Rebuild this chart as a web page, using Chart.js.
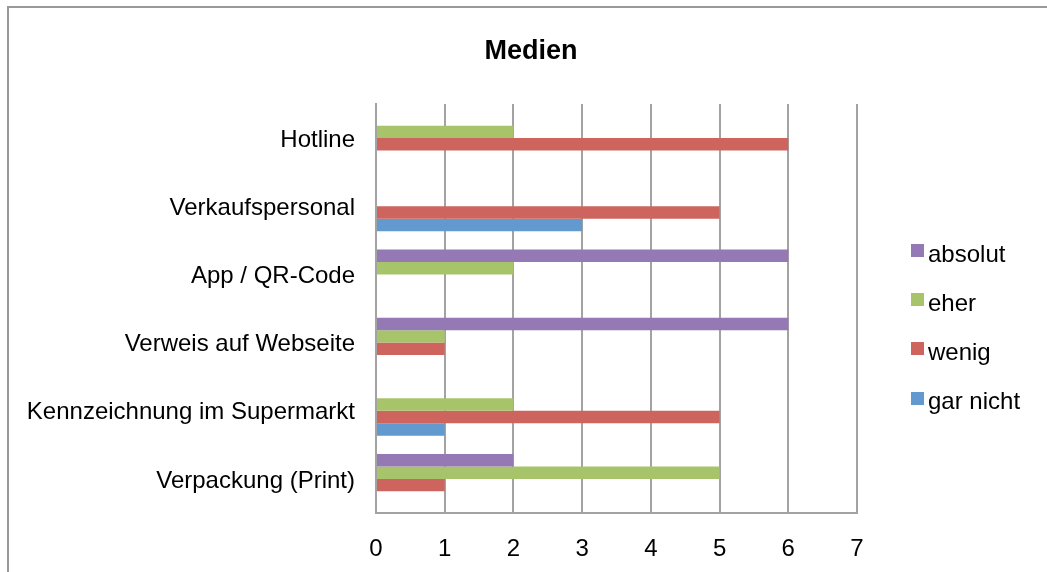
<!DOCTYPE html>
<html>
<head>
<meta charset="utf-8">
<title>Medien</title>
<script src="https://cdn.jsdelivr.net/npm/chart.js@4.4.1/dist/chart.umd.min.js"></script>
<style>
  html, body { margin: 0; padding: 0; background: #ffffff; overflow: hidden; }
  #wrap { position: relative; width: 1047px; height: 572px; }
</style>
</head>
<body>
<div id="wrap"><canvas id="chart" width="1047" height="572"></canvas></div>
<script>
// Categories, top to bottom
const categories = [
  'Hotline',
  'Verkaufspersonal',
  'App / QR-Code',
  'Verweis auf Webseite',
  'Kennzeichnung im Supermarkt',
  'Verpackung (Print)'
];

// Series values (one entry per category)
const absolut  = [0, 0, 6, 6, 0, 2];
const eher     = [2, 0, 2, 1, 2, 5];
const wenig    = [6, 5, 0, 1, 5, 1];
const garNicht = [0, 3, 0, 0, 1, 0];

const seriesNames = ['absolut', 'eher', 'wenig', 'gar nicht'];
const xTicks = [0, 1, 2, 3, 4, 5, 6, 7];
const chartTitle = 'Medien';

const FONT = '"Liberation Sans", Arial, Helvetica, sans-serif';
const GRID = '#a3a3a3';
const colors = ['#9479b4', '#a8c46a', '#ce645e', '#6299ce'];

// Frame, title and legend drawn onto the canvas
const decorations = {
  id: 'decorations',
  beforeDraw(chart) {
    const ctx = chart.ctx;
    ctx.save();
    ctx.fillStyle = '#ffffff';
    ctx.fillRect(0, 0, chart.width, chart.height);
    ctx.strokeStyle = '#999999';
    ctx.lineWidth = 2;
    ctx.beginPath();
    ctx.moveTo(8, chart.height);
    ctx.lineTo(8, 7);
    ctx.lineTo(chart.width, 7);
    ctx.stroke();
    ctx.restore();
  },
  afterDraw(chart) {
    const ctx = chart.ctx;
    ctx.save();
    ctx.fillStyle = '#000000';
    ctx.textAlign = 'center';
    ctx.textBaseline = 'alphabetic';
    ctx.font = 'bold 27px ' + FONT;
    ctx.fillText(chartTitle, 531, 59);

    ctx.textAlign = 'left';
    ctx.font = '24px ' + FONT;
    chart.data.datasets.forEach((ds, i) => {
      const top = 244 + i * 49.2;
      ctx.fillStyle = ds.backgroundColor;
      ctx.fillRect(911, Math.round(top), 13, 13);
      ctx.fillStyle = '#000000';
      ctx.fillText(ds.label, 928, Math.round(top + 17.7));
    });
    ctx.restore();
  }
};

const seriesData = [absolut, eher, wenig, garNicht];

new Chart(document.getElementById('chart'), {
  type: 'bar',
  data: {
    labels: categories,
    datasets: seriesData.map((vals, i) => ({
      label: seriesNames[i],
      data: vals,
      backgroundColor: colors[i],
      borderWidth: 0,
      categoryPercentage: 0.73,
      barPercentage: 1.0
    }))
  },
  options: {
    indexAxis: 'y',
    responsive: false,
    animation: false,
    devicePixelRatio: 1,
    layout: { padding: { top: 104, right: 190, left: 0, bottom: 0 } },
    plugins: {
      legend: { display: false },
      title: { display: false },
      tooltip: { enabled: false }
    },
    scales: {
      x: {
        type: 'linear',
        min: xTicks[0],
        max: xTicks[xTicks.length - 1],
        afterBuildTicks(scale) {
          scale.ticks = xTicks.map(v => ({ value: v }));
        },
        afterFit(scale) { scale.height = 59; },
        ticks: {
          color: '#000000',
          font: { family: FONT, size: 24 },
          padding: 22,
          maxRotation: 0
        },
        grid: { color: GRID, lineWidth: 2, drawTicks: false },
        border: { display: true, color: GRID, width: 2 }
      },
      y: {
        type: 'category',
        afterFit(scale) { scale.width = 376; },
        ticks: {
          color: '#000000',
          font: { family: FONT, size: 24 },
          padding: 21,
          labelOffset: 2
        },
        grid: { display: false, drawTicks: false },
        border: { display: true, color: GRID, width: 2 }
      }
    }
  },
  plugins: [decorations]
});
</script>
</body>
</html>
